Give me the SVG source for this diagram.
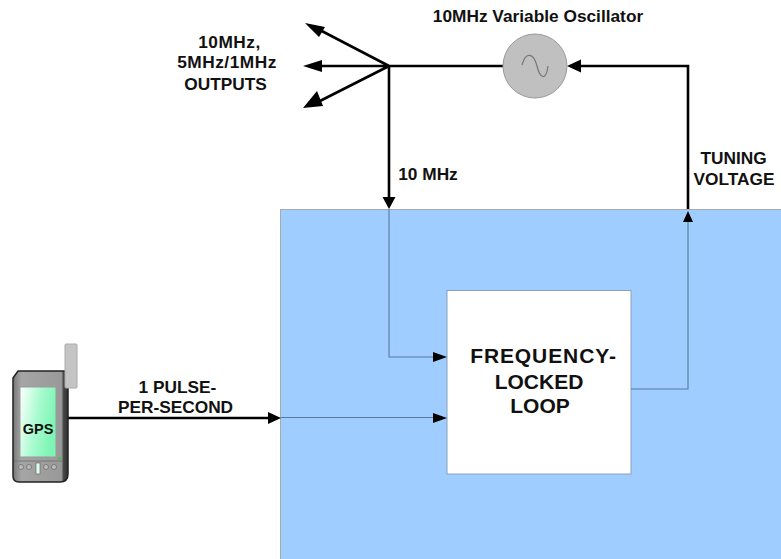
<svg xmlns="http://www.w3.org/2000/svg" width="781" height="559" viewBox="0 0 781 559">
<style>
text{font-family:"Liberation Sans",Arial,sans-serif;font-weight:bold;fill:#111;text-anchor:middle}
.s{font-size:17.3px}
.b{font-size:21px}
.w{letter-spacing:.5px}
.thick{fill:none;stroke:#000;stroke-width:2.6}
.thin{fill:none;stroke:#5a7a9c;stroke-width:1.1}
</style>
<defs>
<linearGradient id="scr" x1="0" y1="0" x2="1" y2="0.3"><stop offset="0" stop-color="#fff"/><stop offset="0.55" stop-color="#a8fbcf"/><stop offset="1" stop-color="#7ff5b5"/></linearGradient>
<linearGradient id="body" x1="0" y1="0" x2="1" y2="0"><stop offset="0" stop-color="#777"/><stop offset="0.15" stop-color="#a5a5a5"/><stop offset="0.88" stop-color="#999"/><stop offset="0.92" stop-color="#444"/><stop offset="1" stop-color="#333"/></linearGradient>
</defs>
<rect width="781" height="559" fill="#fff"/>
<g id="pll-region"><rect x="280.500" y="209.500" width="501" height="350" fill="#9fcdff" stroke="#aaa" stroke-width="1"/></g>
<g id="fll"><rect x="447" y="290.500" width="184" height="183.500" fill="#fff" stroke="#8ba0b8" stroke-width="1"/>
<text class="b" x="543.500" y="363" style="letter-spacing:.9px">FREQUENCY-</text><text class="b" x="539" y="389">LOCKED</text><text class="b" x="540" y="413">LOOP</text></g>
<g id="connectors">
<path class="thin" d="M389 209V357H436"/>
<path class="thin" d="M281 417.500H436"/>
<path class="thin" d="M631 389H688V219"/>
<path class="thick" d="M503 66H389M389 66H318M389 66L316 28M389 66L316 103M389 66V198"/>
<path class="thick" d="M688 209V66H579"/>
<path class="thick" d="M68 418H270"/>
<path d="M305 23L325 27 319 37Z M303 66L322 60V72Z M303 108L317 91 323 106Z M382.500 197H395.500L389 209Z M567 66L581 59.500V72.500Z M688 211L683 222H693Z M281 418L268 412V424Z M447 357L433 352V362Z M447 418L433 413V423Z"/>
</g>
<g id="oscillator"><circle cx="535" cy="66" r="32" fill="#c0c0c0" stroke="#999" stroke-width="1"/>
<path d="M522 65C526 50 534 54 537 66S546 82 548 66" fill="none" stroke="#777" stroke-width="1.200"/>
<text class="s" x="538" y="22">10MHz Variable Oscillator</text></g>
<g id="outputs-label"><text class="s w" x="229.500" y="48">10MHz,</text><text class="s w" x="227" y="68">5MHz/1MHz</text><text class="s" x="225.500" y="90">OUTPUTS</text></g>
<text class="s" x="428" y="180">10 MHz</text>
<text class="s" x="733.500" y="164">TUNING</text><text class="s" x="734" y="185">VOLTAGE</text>
<text class="s" x="177.500" y="393">1 PULSE-</text><text class="s" x="175.500" y="413">PER-SECOND</text>
<g id="gps">
<path d="M13 378L18 371H68V474Q68 482 60 482H19Q13 482 13 476Z" fill="url(#body)" stroke="#222" stroke-width="1.500"/>
<rect x="20" y="387" width="36" height="70" fill="url(#scr)" stroke="#999"/>
<path d="M14 461H63" stroke="#777" stroke-width="1"/>
<rect x="65" y="344" width="12" height="44" rx="1" fill="#c4c4c4" stroke="#aaa"/>
<text x="38" y="434" style="font-size:14.500px">GPS</text>
<rect x="58" y="457" width="2.500" height="2.500" fill="#3c3"/>
<g fill="#bbb" stroke="#666" stroke-width="0.700"><circle cx="21" cy="467" r="2.500"/><circle cx="29" cy="467" r="2.500"/><rect x="36" y="463" width="4" height="11" fill="#dfe"/><circle cx="46" cy="467" r="2.500"/><circle cx="54" cy="467" r="2.500"/></g>
</g>
</svg>
